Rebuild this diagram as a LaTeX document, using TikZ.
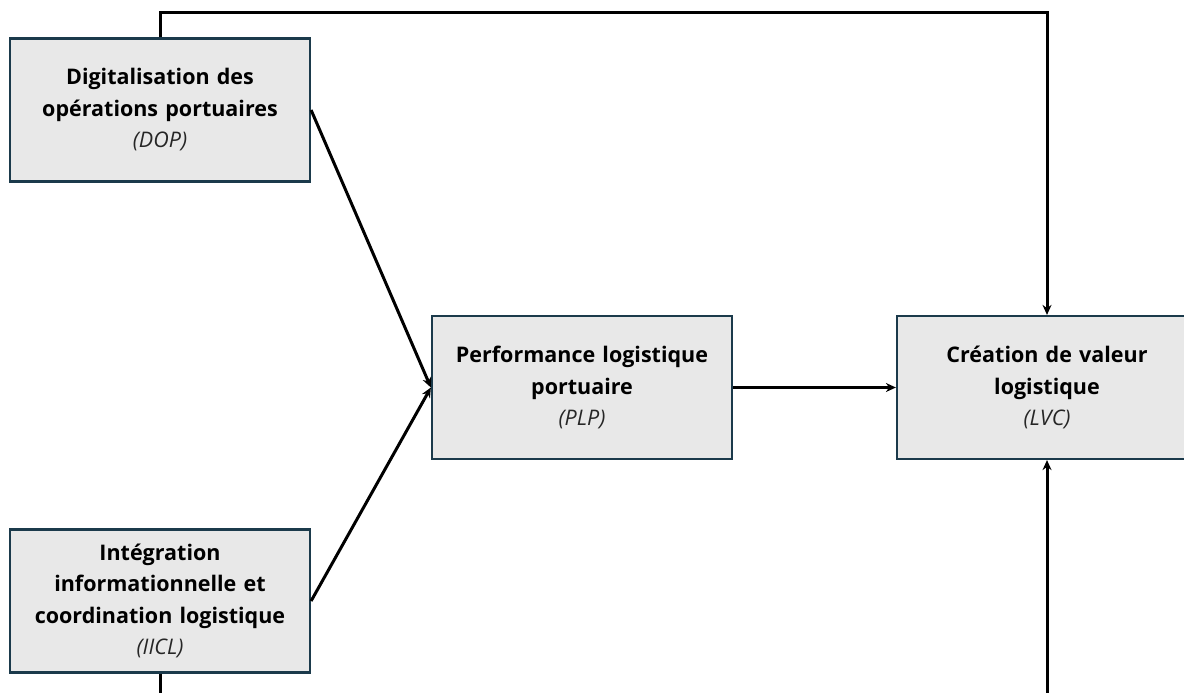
\documentclass[tikz,border=0pt]{standalone}
\usepackage{fontspec}
\setmainfont{Open Sans}
\usetikzlibrary{arrows.meta,positioning}

\definecolor{boxfill}{HTML}{E8E8E8}
\definecolor{boxline}{HTML}{1B3A4B}
\newcommand{\tagfont}{\mdseries\itshape\color{black!85}}

\begin{document}
\begin{tikzpicture}[%
    x=1pt, y=-1pt,
    >={Stealth[length=10pt,width=9pt]},
    node distance=300pt,
    on grid,
    block/.style={draw=boxline, line width=2.2pt, fill=boxfill,
      minimum width=300pt, minimum height=143pt, text width=290pt,
      align=center, font=\fontsize{21.5}{31.5}\selectfont\bfseries},
    link/.style={line width=3pt}
  ]
    \useasboundingbox (0,0) rectangle (1184,693);

    \node[block] (DOP) at (160,110)
      {Digitalisation des\\ opérations portuaires\\ {\tagfont(DOP)}};
    \node[block] (PLP) [below right=277.5pt and 422pt of DOP]
      {Performance logistique\\ portuaire\\ {\tagfont(PLP)}};
    \node[block] (LVC) [right=465pt of PLP]
      {Création de valeur\\ logistique\\ {\tagfont(LVC)}};
    \node[block] (IICL) [below=491pt of DOP]
      {Intégration\\ informationnelle et\\ coordination logistique\\ {\tagfont(IICL)}};

    \coordinate (top) at (LVC.north |- 0,13);
    \coordinate (bottom) at (LVC.south |- 0,730);

    \draw[link, ->] (DOP.north) |- (top) -- (LVC.north);
    \draw[link, ->] (DOP.east) -- (PLP.west);
    \draw[link, ->] (IICL.east) -- (PLP.west);
    \draw[link, ->] (PLP.east) -- (LVC.west);
    \draw[link, ->] (IICL.south) |- (bottom) -- (LVC.south);
  \end{tikzpicture}
\end{document}
